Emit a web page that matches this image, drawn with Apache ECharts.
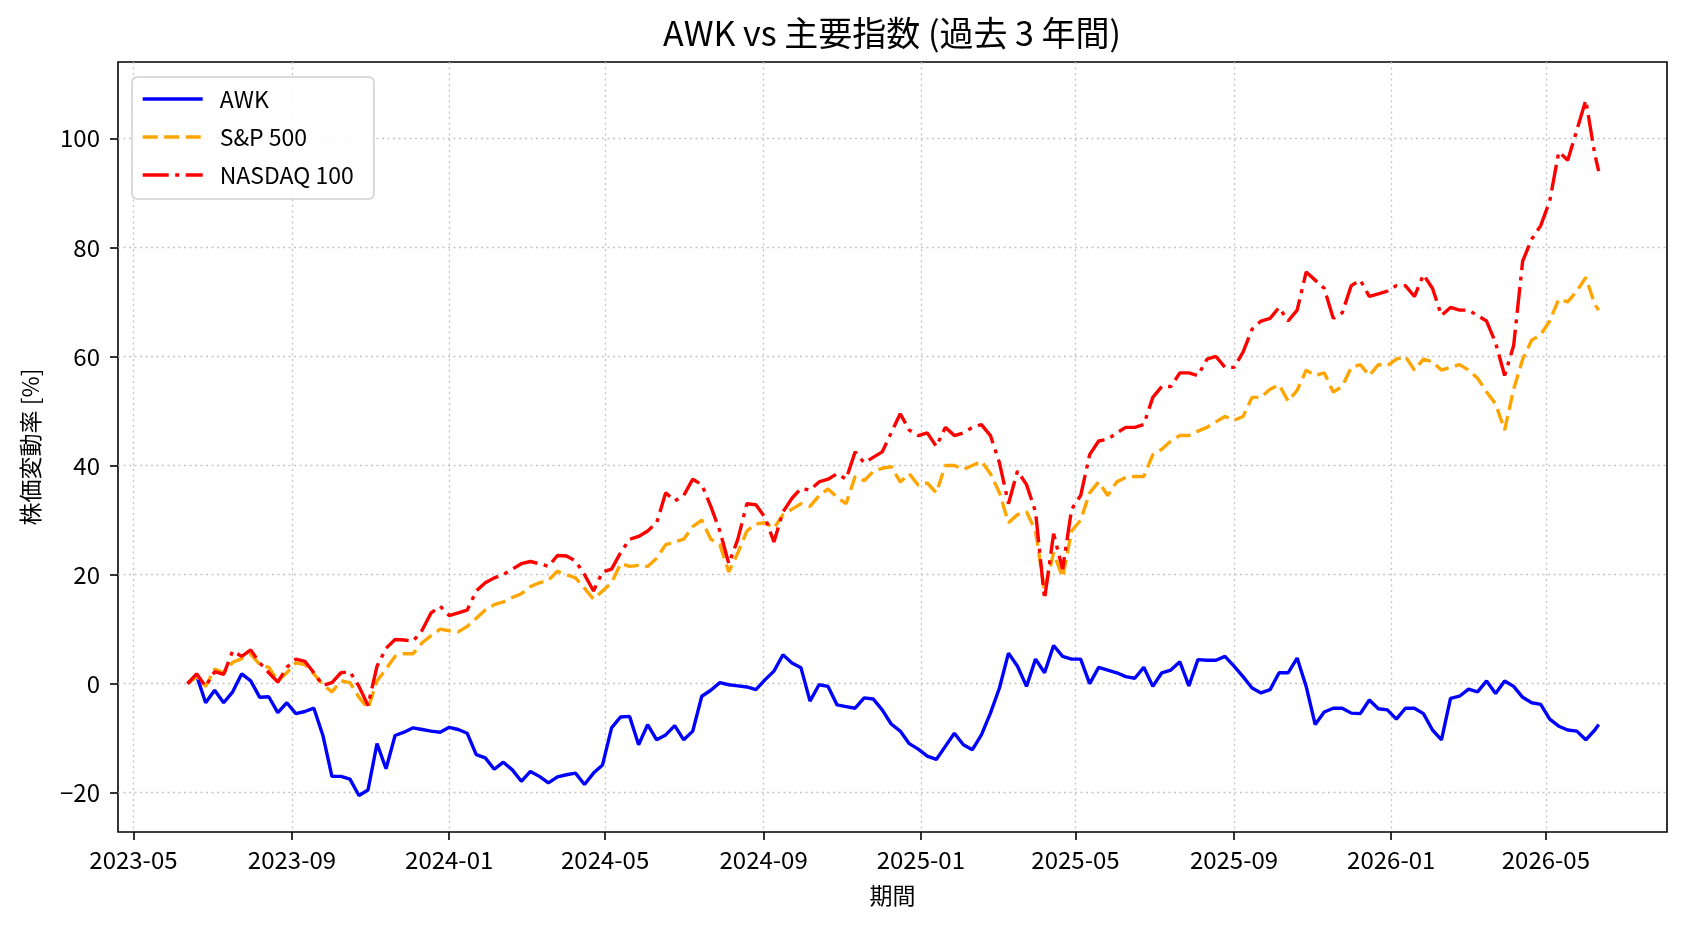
<!DOCTYPE html>
<html style="height: 100%">
<head>
<meta charset="utf-8">
<script src="https://cdn.jsdelivr.net/npm/echarts@6/dist/echarts.min.js"></script>
</head>
<body style="height: 100%; margin: 0; background: #fff">
<div id="container" style="width: 1688px; height: 932px"></div>
<script>
// weekly samples
var dates = [
  '2023-06-12','2023-06-19','2023-06-26',
  '2023-07-03','2023-07-10','2023-07-17','2023-07-24','2023-07-31',
  '2023-08-07','2023-08-14','2023-08-21','2023-08-28',
  '2023-09-04','2023-09-11','2023-09-18','2023-09-25',
  '2023-10-02','2023-10-09','2023-10-16','2023-10-23','2023-10-30',
  '2023-11-06','2023-11-13','2023-11-20','2023-11-27',
  '2023-12-04','2023-12-11','2023-12-18','2023-12-25',
  '2024-01-01','2024-01-08','2024-01-15','2024-01-22','2024-01-29',
  '2024-02-05','2024-02-12','2024-02-19','2024-02-26',
  '2024-03-04','2024-03-11','2024-03-18','2024-03-25',
  '2024-04-01','2024-04-08','2024-04-15','2024-04-22','2024-04-29',
  '2024-05-06','2024-05-13','2024-05-20','2024-05-27',
  '2024-06-03','2024-06-10','2024-06-17','2024-06-24',
  '2024-07-01','2024-07-08','2024-07-15','2024-07-22','2024-07-29',
  '2024-08-05','2024-08-12','2024-08-19','2024-08-26',
  '2024-09-02','2024-09-09','2024-09-16','2024-09-23','2024-09-30',
  '2024-10-07','2024-10-14','2024-10-21','2024-10-28',
  '2024-11-04','2024-11-11','2024-11-18','2024-11-25',
  '2024-12-02','2024-12-09','2024-12-16','2024-12-23','2024-12-30',
  '2025-01-06','2025-01-13','2025-01-20','2025-01-27',
  '2025-02-03','2025-02-10','2025-02-17','2025-02-24',
  '2025-03-03','2025-03-10','2025-03-17','2025-03-24','2025-03-31',
  '2025-04-07','2025-04-14','2025-04-21','2025-04-28',
  '2025-05-05','2025-05-12','2025-05-19','2025-05-26',
  '2025-06-02','2025-06-09','2025-06-16','2025-06-23','2025-06-30',
  '2025-07-07','2025-07-14','2025-07-21','2025-07-28',
  '2025-08-04','2025-08-11','2025-08-18','2025-08-25',
  '2025-09-01','2025-09-08','2025-09-15','2025-09-22','2025-09-29',
  '2025-10-06','2025-10-13','2025-10-20','2025-10-27',
  '2025-11-03','2025-11-10','2025-11-17','2025-11-24',
  '2025-12-01','2025-12-08','2025-12-15','2025-12-22','2025-12-29',
  '2026-01-05','2026-01-12','2026-01-19','2026-01-26',
  '2026-02-02','2026-02-09','2026-02-16','2026-02-23',
  '2026-03-02','2026-03-09','2026-03-16','2026-03-23','2026-03-30',
  '2026-04-06','2026-04-13','2026-04-20','2026-04-27',
  '2026-05-04','2026-05-11','2026-05-18','2026-05-25',
  '2026-06-01','2026-06-08',
  '2026-06-11'
];

var awk = [
  0, 1.5, -3.5,
  -1.2, -3.5, -1.5, 1.8, 0.5,
  -2.5, -2.4, -5.3, -3.5,
  -5.5, -5.1, -4.5, -9.5,
  -17, -17, -17.5, -20.5, -19.5,
  -11, -15.6, -9.5, -8.9,
  -8.1, -8.4, -8.7, -8.9,
  -8.0, -8.4, -9.1, -13, -13.6,
  -15.7, -14.4, -15.8, -17.9,
  -16.1, -17, -18.2, -17.1,
  -16.7, -16.4, -18.5, -16.4, -14.9,
  -8.1, -6.1, -6, -11.2,
  -7.5, -10.3, -9.4, -7.7,
  -10.3, -8.7, -2.3, -1.2, 0.2,
  -0.2, -0.4, -0.6, -1.1,
  0.7, 2.3, 5.3, 3.8, 2.9,
  -3.2, -0.2, -0.5, -3.9,
  -4.2, -4.5, -2.6, -2.8,
  -4.8, -7.4, -8.7, -11, -12,
  -13.3, -13.9, -11.5, -9.1,
  -11.2, -12.1, -9.4, -5.4,
  -0.8, 5.6, 3.2, -0.5, 4.5,
  2.0, 7.0, 5.0, 4.5,
  4.5, 0.0, 3.0, 2.5,
  2.0, 1.3, 1.0, 3.0, -0.5,
  2.0, 2.5, 4.0, -0.4,
  4.4, 4.3, 4.3, 5.0,
  3.2, 1.3, -0.8, -1.7, -1.1,
  2.0, 2.0, 4.7, -0.5,
  -7.5, -5.2, -4.5, -4.5,
  -5.4, -5.5, -3.0, -4.6, -4.8,
  -6.5, -4.5, -4.5, -5.5,
  -8.5, -10.3, -2.7, -2.3,
  -1.0, -1.5, 0.5, -1.8, 0.5,
  -0.5, -2.5, -3.5, -3.8,
  -6.5, -7.8, -8.5, -8.7,
  -10.3, -8.5,
  -7.5
];

var sp500 = [
  0, 1.3, -0.5,
  2.7, 2.0, 3.9, 4.6, 5.4,
  3.5, 3.0, 0.5, 2.0,
  3.8, 3.5, 1.8, -0.2,
  -1.5, 0.5, 0.2, -2.5, -4.5,
  0.5, 2.7, 5.0, 5.5,
  5.5, 7.5, 8.8, 10.0,
  9.7, 9.5, 10.5, 12.0, 13.5,
  14.5, 15.0, 15.8, 16.5,
  17.8, 18.5, 19.0, 20.6,
  20.0, 19.4, 17.5, 15.5, 17.0,
  18.5, 22.0, 21.5, 21.7,
  21.5, 23.0, 25.5, 26.0,
  26.5, 28.8, 30.0, 26.5, 25.5,
  20.5, 24.0, 28.0, 29.3,
  29.5, 28.5, 31.0, 32.0, 33.0,
  32.5, 34.5, 35.7, 34.2,
  33.0, 38.0, 37.2, 38.9,
  39.5, 39.8, 37.0, 38.5, 36.4,
  36.8, 35.0, 40.0, 40.0,
  39.3, 40.0, 40.8, 38.5,
  35.0, 29.5, 31.0, 31.5, 28.0,
  17.0, 24.0, 19.5, 28.0,
  30.0, 35.0, 37.0, 34.5,
  37.0, 37.8, 38.0, 38.0, 42.0,
  43.0, 44.5, 45.5, 45.5,
  46.3, 47.0, 48.0, 49.0,
  48.3, 49.0, 52.5, 52.5, 54.0,
  54.8, 51.8, 53.8, 57.5,
  56.5, 57.0, 53.5, 54.5,
  58.0, 58.5, 56.5, 58.5, 58.3,
  59.5, 60.0, 57.5, 59.5,
  59.0, 57.5, 58.0, 58.5,
  57.5, 56.0, 53.5, 51.3, 46.5,
  54.0, 59.5, 63.0, 64.0,
  66.5, 70.5, 70.0, 72.0,
  74.5, 69.5,
  68.5
];

var nasdaq100 = [
  0, 1.8, -0.5,
  2.2, 1.7, 6.0, 5.0, 6.2,
  3.8, 2.0, 0.3, 3.0,
  4.5, 4.1, 2.0, -0.3,
  0.2, 2.0, 2.2, -0.5, -4.0,
  3.2, 6.5, 8.1, 8.0,
  7.8, 9.8, 13.0, 14.2,
  12.5, 13.0, 13.5, 17.0, 18.5,
  19.4, 20.0, 21.0, 22.0,
  22.4, 22.0, 21.5, 23.5,
  23.4, 22.5, 20.0, 17.0, 20.5,
  21.0, 24.0, 26.5, 27.0,
  28.0, 29.5, 35.0, 33.5,
  34.5, 37.5, 36.5, 32.5, 28.0,
  22.0, 26.5, 33.0, 32.8,
  30.5, 26.0, 31.5, 34.0, 35.8,
  35.5, 37.0, 37.5, 38.5,
  37.5, 42.5, 40.5, 41.5,
  42.5, 46.0, 49.5, 46.5, 45.5,
  46.0, 43.5, 47.0, 45.5,
  46.0, 47.0, 47.5, 45.5,
  40.5, 33.0, 39.0, 36.5, 31.5,
  15.5, 27.5, 21.0, 32.0,
  34.5, 42.0, 44.5, 44.8,
  46.0, 47.0, 47.0, 47.5, 52.5,
  54.5, 54.5, 57.0, 57.0,
  56.5, 59.5, 60.0, 58.0,
  58.0, 60.8, 65.0, 66.5, 67.0,
  69.0, 66.5, 68.5, 75.5,
  74.0, 72.5, 67.0, 68.0,
  73.0, 74.0, 71.0, 71.5, 72.0,
  73.0, 73.0, 71.0, 75.0,
  72.5, 67.5, 69.0, 68.5,
  68.5, 67.5, 66.5, 62.5, 56.5,
  62.0, 77.5, 81.5, 84.0,
  88.5, 97.5, 96.0, 101.5,
  107.0, 97.0,
  94.0
];

var seriesNames = ['AWK', 'S&P 500', 'NASDAQ 100'];
var xTicks = ['2023-05-01', '2023-09-01', '2024-01-01', '2024-05-01', '2024-09-01',
              '2025-01-01', '2025-05-01', '2025-09-01', '2026-01-01', '2026-05-01'];
var yTicks = [-20, 0, 20, 40, 60, 80, 100];

var FONT = '"Noto Sans CJK JP", "Noto Sans", sans-serif';

function toTime(s) {
    var p = s.split('-');
    return Date.UTC(+p[0], +p[1] - 1, +p[2]);
}
function pairs(vals) {
    return dates.map(function (d, i) { return [toTime(d), vals[i]]; });
}

var dom = document.getElementById('container');
var myChart = echarts.init(dom, null, { renderer: 'canvas' });

var gridLine = { show: true, lineStyle: { color: '#c4c4c4', width: 1.3, type: [2, 3.5] } };
var tickLine = { color: '#000', width: 1.6 };

var option = {
    animation: false,
    backgroundColor: '#fff',
    textStyle: { fontFamily: FONT },
    title: {
        // centred over the plot area, not the page
        text: 'AWK vs 主要指数 (過去 3 年間)',
        left: 892,
        textAlign: 'center',
        top: 16,
        padding: 0,
        textStyle: { fontFamily: FONT, fontSize: 34, fontWeight: 'normal', color: '#000' }
    },
    legend: {
        orient: 'vertical',
        left: 132,
        top: 77,
        padding: [9, 20, 11, 9],
        itemWidth: 60,
        itemHeight: 14,
        itemGap: 12,
        borderColor: '#d0d0d0',
        borderWidth: 1.5,
        borderRadius: 5,
        backgroundColor: 'rgba(255,255,255,0.85)',
        itemStyle: { opacity: 0 },
        lineStyle: { width: 3.4 },
        textStyle: { fontFamily: FONT, fontSize: 23, color: '#000', lineHeight: 26, padding: [0, 0, 0, 12] },
        data: seriesNames
    },
    grid: {
        left: 118, right: 21, top: 62, bottom: 100,
        show: true,
        borderColor: '#000',
        borderWidth: 1.6,
        backgroundColor: 'transparent'
    },
    xAxis: {
        type: 'value',
        min: toTime('2023-04-19'),
        max: toTime('2026-08-03'),
        name: '期間',
        nameLocation: 'middle',
        nameGap: 52,
        nameTextStyle: { fontFamily: FONT, fontSize: 23, color: '#000' },
        axisLine: { show: false, onZero: false },
        axisTick: { show: true, inside: false, length: 8, lineStyle: tickLine, customValues: xTicks.map(toTime) },
        axisLabel: {
            margin: 16,
            fontFamily: FONT, fontSize: 24, color: '#000',
            customValues: xTicks.map(toTime),
            formatter: function (v) {
                var d = new Date(v);
                var m = d.getUTCMonth() + 1;
                return d.getUTCFullYear() + '-' + (m < 10 ? '0' + m : m);
            }
        },
        splitLine: gridLine
    },
    yAxis: {
        type: 'value',
        min: -27.2,
        max: 114,
        name: '株価変動率 [%]',
        nameLocation: 'middle',
        nameRotate: 90,
        nameGap: 76,
        nameTextStyle: { fontFamily: FONT, fontSize: 23, color: '#000' },
        axisLine: { show: false, onZero: false },
        axisTick: { show: true, inside: false, length: 8, lineStyle: tickLine, customValues: yTicks },
        axisLabel: {
            margin: 18,
            fontFamily: FONT, fontSize: 24, color: '#000',
            customValues: yTicks,
            formatter: function (v) { return v < 0 ? '\u2212' + (-v) : String(v); }
        },
        splitLine: gridLine
    },
    series: [
        {
            name: seriesNames[0],
            type: 'line',
            data: pairs(awk),
            showSymbol: false,
            symbol: 'none',
            color: '#0000ff',
            lineStyle: { color: '#0000ff', width: 3.4, type: 'solid' },
            z: 2
        },
        {
            name: seriesNames[1],
            type: 'line',
            data: pairs(sp500),
            showSymbol: false,
            symbol: 'none',
            color: '#ffa500',
            lineStyle: { color: '#ffa500', width: 3.4, type: [15, 6.5] },
            z: 3
        },
        {
            name: seriesNames[2],
            type: 'line',
            data: pairs(nasdaq100),
            showSymbol: false,
            symbol: 'none',
            color: '#ff0000',
            lineStyle: { color: '#ff0000', width: 3.4, type: [26, 6.5, 4, 6.5] },
            z: 4
        }
    ]
};

if (option && typeof option === 'object') {
    myChart.setOption(option, true);
}
</script>
</body>
</html>
